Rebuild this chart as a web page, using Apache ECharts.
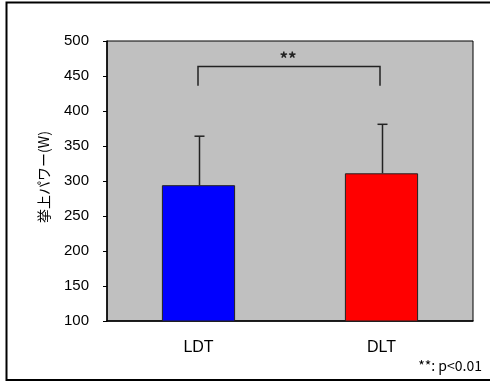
<!DOCTYPE html>
<html>
<head>
<meta charset="utf-8">
<script src="https://cdn.jsdelivr.net/npm/echarts@6/dist/echarts.min.js"></script>
<style>html,body{margin:0;padding:0;background:#fff}#c{width:490px;height:383px}</style>
</head>
<body>
<div id="c"></div>
<script>
const categories = ['LDT', 'DLT'];
const means = [294, 311];
const sds = [70, 70];
const barColors = ['#0000FF', '#FF0000'];
const yTicks = [100, 150, 200, 250, 300, 350, 400, 450, 500];
const bracketFrom = 0, bracketTo = 1;
const bracketTop = 464, bracketFoot = 436;
const sigLabel = '**';
const noteText = '**: p<0.01';
const yName = '挙上パワー(W)';

const FONT = '"Liberation Sans", Arial, "Noto Sans CJK JP", sans-serif';
const CJK = '"Noto Sans CJK JP", sans-serif';
const chart = echarts.init(document.getElementById('c'), null, {renderer: 'canvas'});

const errData = categories.map((c, i) => [i, means[i], means[i] + sds[i]]);

chart.setOption({
  animation: false,
  backgroundColor: '#fff',
  grid: {left: 107, top: 41, right: 17, bottom: 62, show: true, backgroundColor: '#C0C0C0', borderColor: '#000', borderWidth: 1},
  xAxis: {
    type: 'category', data: categories,
    axisLine: {lineStyle: {color: '#000', width: 1.5}},
    axisTick: {show: false},
    axisLabel: {color: '#000', fontSize: 16, fontFamily: FONT, margin: 19}
  },
  yAxis: {
    type: 'value', min: yTicks[0], max: yTicks[yTicks.length - 1], interval: 50,
    axisLine: {show: true, lineStyle: {color: '#000', width: 1.5}},
    axisTick: {show: true, length: 4, lineStyle: {color: '#000'}},
    splitLine: {show: false},
    axisLabel: {color: '#000', fontSize: 15, fontFamily: FONT, margin: 18},
    name: yName, nameLocation: 'middle', nameGap: 56, nameRotate: 90,
    nameTextStyle: {color: '#000', fontSize: 14, fontFamily: CJK, padding: [0, 0, 0, 8]}
  },
  graphic: [
    {type: 'rect', shape: {x: 6.5, y: 2.5, width: 490, height: 377.5}, style: {fill: 'none', stroke: '#000', lineWidth: 2}, z: 100},
    {type: 'text', right: 8, top: 359, style: {text: noteText, fill: '#000', font: '14px ' + CJK, textAlign: 'right'}}
  ],
  series: [
    {
      type: 'bar', barWidth: '40%',
      data: means.map((v, i) => ({value: v, itemStyle: {color: barColors[i], borderColor: '#222', borderWidth: 1}})),
      z: 2
    },
    {
      type: 'custom', z: 3,
      data: errData,
      renderItem: function (params, api) {
        const base = api.coord([api.value(0), api.value(1)]);
        const top = api.coord([api.value(0), api.value(2)]);
        const x = Math.round(base[0]) + 0.5;
        return {type: 'group', children: [
          {type: 'line', shape: {x1: x, y1: base[1], x2: x, y2: top[1]}, style: {stroke: '#222', lineWidth: 1.5}},
          {type: 'line', shape: {x1: x - 5, y1: top[1], x2: x + 5, y2: top[1]}, style: {stroke: '#222', lineWidth: 1.5}}
        ]};
      }
    },
    {
      type: 'custom', z: 3,
      data: [[bracketFrom, bracketTo, bracketTop, bracketFoot]],
      renderItem: function (params, api) {
        const a = api.coord([api.value(0), api.value(2)]);
        const b = api.coord([api.value(1), api.value(2)]);
        const af = api.coord([api.value(0), api.value(3)]);
        const bf = api.coord([api.value(1), api.value(3)]);
        const y = Math.round(a[1]) + 0.5;
        return {type: 'group', children: [
          {type: 'polyline', shape: {points: [[Math.round(af[0]) - 1, af[1]], [Math.round(a[0]) - 1, y], [Math.round(b[0]) - 2, y], [Math.round(bf[0]) - 2, bf[1]]]}, style: {stroke: '#222', lineWidth: 1.5, fill: 'none'}},
          {type: 'text', x: (a[0] + b[0]) / 2 - 2, y: y + 1, style: {text: sigLabel, fill: '#222', font: 'bold 17px ' + CJK, textAlign: 'center', textVerticalAlign: 'bottom'}}
        ]};
      }
    }
  ]
});
</script>
</body>
</html>
